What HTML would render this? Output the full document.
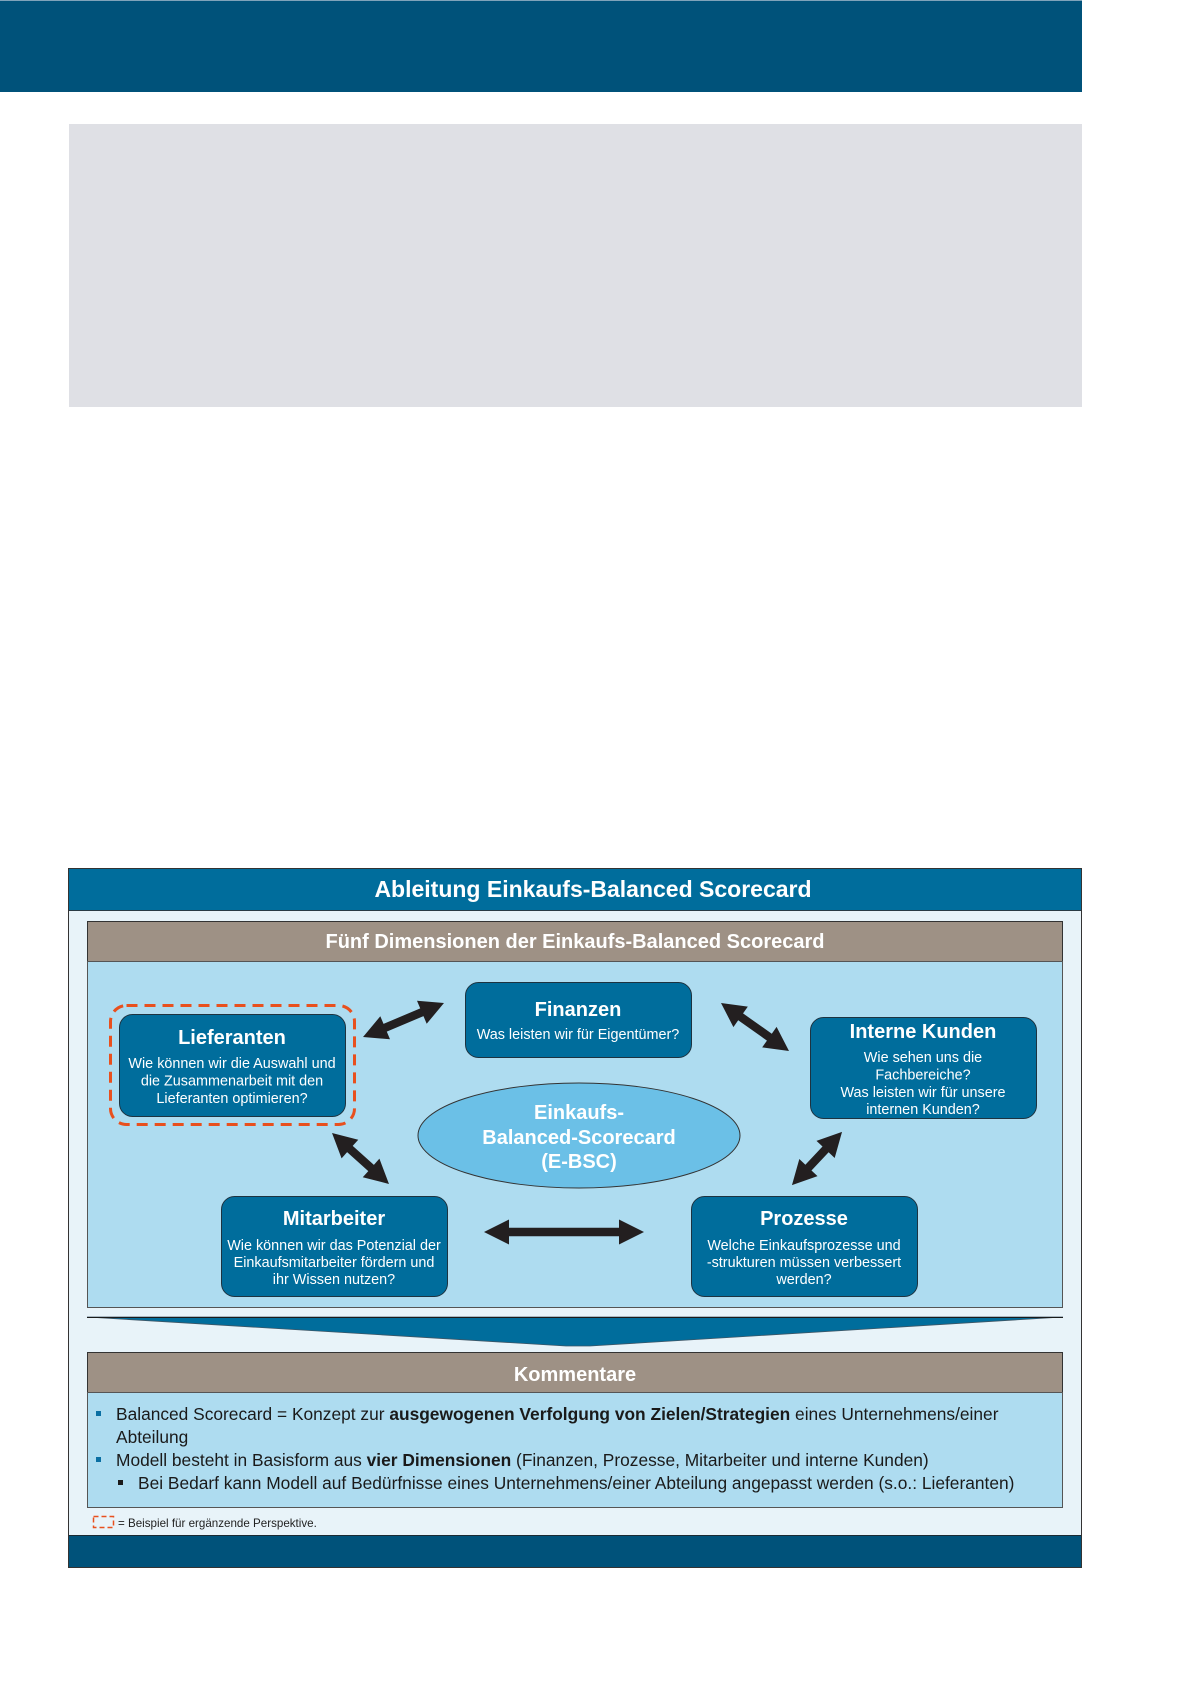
<!DOCTYPE html>
<html>
<head>
<meta charset="utf-8">
<style>
  html, body { margin:0; padding:0; background:#ffffff; }
  body { width:1196px; height:1692px; overflow:hidden; }
  svg { display:block; font-family:"Liberation Sans", Arial, sans-serif; }
  .w { fill:#ffffff; }
  .tb { font-weight:bold; }
</style>
</head>
<body>
<svg width="1196" height="1692" viewBox="0 0 1196 1692" xmlns="http://www.w3.org/2000/svg">
  <rect x="0" y="0" width="1196" height="1692" fill="#ffffff"/>

  <!-- top banner -->
  <rect x="0" y="0" width="1082" height="92" fill="#00527A"/>
  <line x1="0" y1="0.5" x2="1082" y2="0.5" stroke="#7FA3BA" stroke-width="1"/>

  <!-- gray block -->
  <rect x="69" y="124" width="1013" height="283" fill="#DFE0E5"/>

  <!-- outer diagram frame -->
  <rect x="68.5" y="868.5" width="1013" height="699" fill="#E8F3F9" stroke="#333" stroke-width="1"/>
  <rect x="69" y="869" width="1012" height="41" fill="#006D9C"/>
  <line x1="69" y1="910.5" x2="1081" y2="910.5" stroke="#2a3a44" stroke-width="1"/>
  <text x="593" y="897" text-anchor="middle" class="w tb" font-size="23">Ableitung Einkaufs-Balanced Scorecard</text>

  <!-- five dimensions header -->
  <rect x="87.5" y="921.5" width="975" height="40" fill="#9E9185" stroke="#333" stroke-width="1"/>
  <text x="575" y="948" text-anchor="middle" class="w tb" font-size="20">Fünf Dimensionen der Einkaufs-Balanced Scorecard</text>
  <rect x="87.5" y="961.5" width="975" height="346" fill="#AEDCF0" stroke="#555" stroke-width="1"/>

  <!-- ellipse -->
  <ellipse cx="579" cy="1135.5" rx="161" ry="52.5" fill="#6BC0E7" stroke="#333" stroke-width="1"/>
  <text x="579" y="1119" text-anchor="middle" class="w tb" font-size="20">Einkaufs-</text>
  <text x="579" y="1144" text-anchor="middle" class="w tb" font-size="20">Balanced-Scorecard</text>
  <text x="579" y="1168" text-anchor="middle" class="w tb" font-size="20">(E-BSC)</text>

  <!-- Lieferanten -->
  <rect x="110.5" y="1005.5" width="244" height="119" rx="16" ry="16" fill="none" stroke="#E8501E" stroke-width="3" stroke-dasharray="11 7"/>
  <rect x="119.5" y="1014.5" width="226" height="102" rx="13" ry="13" fill="#006D9C" stroke="#1d3340" stroke-width="1"/>
  <text x="232" y="1044" text-anchor="middle" class="w tb" font-size="20">Lieferanten</text>
  <text x="232" y="1068" text-anchor="middle" class="w" font-size="14.4">Wie können wir die Auswahl und</text>
  <text x="232" y="1085.5" text-anchor="middle" class="w" font-size="14.4">die Zusammenarbeit mit den</text>
  <text x="232" y="1103" text-anchor="middle" class="w" font-size="14.4">Lieferanten optimieren?</text>

  <!-- Finanzen -->
  <rect x="465.5" y="982.5" width="226" height="75" rx="13" ry="13" fill="#006D9C" stroke="#1d3340" stroke-width="1"/>
  <text x="578" y="1016" text-anchor="middle" class="w tb" font-size="20">Finanzen</text>
  <text x="578" y="1039" text-anchor="middle" class="w" font-size="14.4">Was leisten wir für Eigentümer?</text>

  <!-- Interne Kunden -->
  <rect x="810.5" y="1017.5" width="226" height="101" rx="13" ry="13" fill="#006D9C" stroke="#1d3340" stroke-width="1"/>
  <text x="923" y="1038" text-anchor="middle" class="w tb" font-size="20">Interne Kunden</text>
  <text x="923" y="1062" text-anchor="middle" class="w" font-size="14.4">Wie sehen uns die</text>
  <text x="923" y="1079.5" text-anchor="middle" class="w" font-size="14.4">Fachbereiche?</text>
  <text x="923" y="1097" text-anchor="middle" class="w" font-size="14.4">Was leisten wir für unsere</text>
  <text x="923" y="1114" text-anchor="middle" class="w" font-size="14.4">internen Kunden?</text>

  <!-- Mitarbeiter -->
  <rect x="221.5" y="1196.5" width="226" height="100" rx="13" ry="13" fill="#006D9C" stroke="#1d3340" stroke-width="1"/>
  <text x="334" y="1225" text-anchor="middle" class="w tb" font-size="20">Mitarbeiter</text>
  <text x="334" y="1250" text-anchor="middle" class="w" font-size="14.4">Wie können wir das Potenzial der</text>
  <text x="334" y="1267" text-anchor="middle" class="w" font-size="14.4">Einkaufsmitarbeiter fördern und</text>
  <text x="334" y="1284" text-anchor="middle" class="w" font-size="14.4">ihr Wissen nutzen?</text>

  <!-- Prozesse -->
  <rect x="691.5" y="1196.5" width="226" height="100" rx="13" ry="13" fill="#006D9C" stroke="#1d3340" stroke-width="1"/>
  <text x="804" y="1225" text-anchor="middle" class="w tb" font-size="20">Prozesse</text>
  <text x="804" y="1250" text-anchor="middle" class="w" font-size="14.4">Welche Einkaufsprozesse und</text>
  <text x="804" y="1267" text-anchor="middle" class="w" font-size="14.4">-strukturen müssen verbessert</text>
  <text x="804" y="1284" text-anchor="middle" class="w" font-size="14.4">werden?</text>

  <!-- arrows -->
  <g fill="#231F20">
    <!-- L - F -->
    <g transform="translate(403.5,1020) rotate(-22.8)">
      <polygon points="-43.9,0 -19.9,-12.5 -19.9,-4.2 19.9,-4.2 19.9,-12.5 43.9,0 19.9,12.5 19.9,4.2 -19.9,4.2 -19.9,12.5"/>
    </g>
    <!-- F - IK -->
    <g transform="translate(755,1027) rotate(35.2)">
      <polygon points="-41.6,0 -17.6,-12.5 -17.6,-4.2 17.6,-4.2 17.6,-12.5 41.6,0 17.6,12.5 17.6,4.2 -17.6,4.2 -17.6,12.5"/>
    </g>
    <!-- L - M -->
    <g transform="translate(360.5,1158.5) rotate(41.8)">
      <polygon points="-38.2,0 -14.2,-12.5 -14.2,-4.2 14.2,-4.2 14.2,-12.5 38.2,0 14.2,12.5 14.2,4.2 -14.2,4.2 -14.2,12.5"/>
    </g>
    <!-- IK - P -->
    <g transform="translate(817,1158.5) rotate(133.3)">
      <polygon points="-36.5,0 -12.5,-12.5 -12.5,-4.2 12.5,-4.2 12.5,-12.5 36.5,0 12.5,12.5 12.5,4.2 -12.5,4.2 -12.5,12.5"/>
    </g>
    <!-- M - P -->
    <g transform="translate(564,1232)">
      <polygon points="-80,0 -55,-12.5 -55,-4.2 55,-4.2 55,-12.5 80,0 55,12.5 55,4.2 -55,4.2 -55,12.5"/>
    </g>
  </g>

  <!-- funnel -->
  <polygon points="87,1317 1063,1317 590,1346 566,1346" fill="#006D9C" stroke="#3d5666" stroke-width="0.8"/>
  <line x1="87" y1="1317.5" x2="1063" y2="1317.5" stroke="#1a1a1a" stroke-width="1"/>

  <!-- Kommentare -->
  <rect x="87.5" y="1352.5" width="975" height="40" fill="#9E9185" stroke="#333" stroke-width="1"/>
  <text x="575" y="1381" text-anchor="middle" class="w tb" font-size="20">Kommentare</text>
  <rect x="87.5" y="1392.5" width="975" height="115" fill="#AEDCF0" stroke="#555" stroke-width="1"/>

  <g font-size="17.35" fill="#1a1a1a">
    <rect x="96" y="1411" width="5" height="5" fill="#0A6FA3"/>
    <text x="116" y="1420">Balanced Scorecard = Konzept zur <tspan font-weight="bold">ausgewogenen Verfolgung von Zielen/Strategien</tspan> eines Unternehmens/einer</text>
    <text x="116" y="1443">Abteilung</text>
    <rect x="96" y="1457" width="5" height="5" fill="#0A6FA3"/>
    <text x="116" y="1466">Modell besteht in Basisform aus <tspan font-weight="bold">vier Dimensionen</tspan> (Finanzen, Prozesse, Mitarbeiter und interne Kunden)</text>
    <rect x="118" y="1480" width="5" height="5" fill="#1a1a1a"/>
    <text x="138" y="1489">Bei Bedarf kann Modell auf Bedürfnisse eines Unternehmens/einer Abteilung angepasst werden (s.o.: Lieferanten)</text>
  </g>

  <!-- legend -->
  <rect x="93.5" y="1516.5" width="20" height="11" fill="none" stroke="#E8501E" stroke-width="1.5" stroke-dasharray="5 3"/>
  <text x="118" y="1527" font-size="11.6" fill="#222">= Beispiel für ergänzende Perspektive.</text>

  <!-- bottom band -->
  <rect x="69" y="1535" width="1012" height="32" fill="#00527A"/>
  <line x1="69" y1="1535.5" x2="1081" y2="1535.5" stroke="#1a2a33" stroke-width="1"/>
</svg>
</body>
</html>
